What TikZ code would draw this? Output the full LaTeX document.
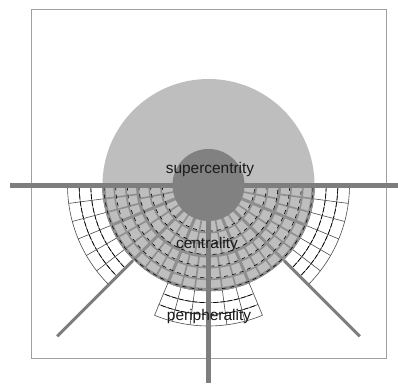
\documentclass[tikz,border=0pt]{standalone}
\usepackage{fontspec}
\setmainfont{Liberation Sans}
\usetikzlibrary{calc}
\definecolor{lightg}{HTML}{BEBEBE}
\definecolor{darkg}{HTML}{818181}
\definecolor{lineg}{HTML}{7E7E7E}
\definecolor{gridg}{HTML}{8E8E8E}
\definecolor{framec}{HTML}{A0A0A0}
\definecolor{textc}{HTML}{1A1A1A}
\tikzset{
  gridthin/.style={gridg, line width=1.6bp},
  gridthick/.style={gridg, line width=3bp},
  blackdash/.style={black, line width=0.6bp, dash pattern=on 4bp off 4bp},
  wline/.style={black!70, line width=0.6bp},
  wdash/.style={black, line width=0.7bp, dash pattern=on 5bp off 2bp},
  bigline/.style={lineg, line width=5bp},
  diagline/.style={lineg, line width=3bp},
  lbl/.style={font=\fontsize{15.5}{18}\selectfont, text=textc, inner sep=1bp}
}
\begin{document}
\begin{tikzpicture}[x=1bp,y=1bp]
\useasboundingbox (0,0) rectangle (398,385);
\fill[white] (0,0) rectangle (398,385);
\node[draw=framec, line width=0.8bp, minimum width=355bp, minimum height=349bp, inner sep=0pt, anchor=south west] (frame) at (31,26) {};
\coordinate (C) at (208.5,200);
% white outer sectors with thin grid
\foreach \a/\b in {180/225, 315/360, 247.5/292.5} {
  \fill[white] (C) -- ($(C)+(\a:141)$) arc[start angle=\a, end angle=\b, radius=141] -- cycle;
  \foreach \r in {106,117.7,129.3,141}
    \draw[wline] ($(C)+(\a:\r)$) arc[start angle=\a, end angle=\b, radius=\r];
  \foreach \r in {117.7,129.3}
    \draw[wdash] ($(C)+(\a+1:\r)$) arc[start angle=\a+1, end angle=\b-1, radius=\r];
  \foreach \k [evaluate=\k as \t using \a+7.5*\k] in {0,...,6}
    \draw[wline] ($(C)+(\t:106)$) -- ($(C)+(\t:141)$);
}
% light circle
\fill[lightg] (C) circle[radius=106];
% lower half grid
\foreach \j [evaluate=\j as \r using 36+70/6*\j] in {1,2,4,5}
  \draw[gridthin] ($(C)+(180:\r)$) arc[start angle=180, end angle=360, radius=\r];
\foreach \k [evaluate=\k as \t using 180+11.25*\k] in {1,...,15}
  \draw[gridthin] ($(C)+(\t:36)$) -- ($(C)+(\t:71)$);
\foreach \k [evaluate=\k as \t using 180+7.5*\k] in {1,...,23}
  \draw[gridthin] ($(C)+(\t:71)$) -- ($(C)+(\t:106)$);
\foreach \k [evaluate=\k as \t using 180+22.5*\k] in {1,...,7}
  \draw[gridthick] ($(C)+(\t:36)$) -- ($(C)+(\t:106)$);
\draw[gridthick] ($(C)+(180:71)$) arc[start angle=180, end angle=360, radius=71];
\draw[gridthick] ($(C)+(180:104.5)$) arc[start angle=180, end angle=360, radius=104.5];
% black jittered dashes along the rings
\foreach \j [evaluate=\j as \r using 34.5+70/6*\j] in {1,...,6}
  \draw[blackdash] ($(C)+(181:\r)$) arc[start angle=181, end angle=359, radius=\r];
% main lines
\coordinate (hl) at (10,199);
\coordinate (hr) at (398,199);
\draw[bigline] (hl) -- (hr);
\coordinate (vt) at ($(C)+(270:34)$);
\coordinate (vb) at (208.5,2);
\draw[bigline, line width=4.5bp] (vt) -- (vb);
\coordinate (dl1) at ($(C)+(225:107)$);
\coordinate (dl2) at ($(C)+(225:214)$);
\coordinate (dr1) at ($(C)+(315:107)$);
\coordinate (dr2) at ($(C)+(315:214)$);
\draw[diagline] (dl1) -- (dl2);
\draw[diagline] (dr1) -- (dr2);
% dark core
\fill[darkg] (C) circle[radius=36];
% labels
\node[lbl] (sup) at (210,215) {supercentrity};
\node[lbl] (cen) at (207,140) {centrality};
\node[lbl] (per) at (209,68) {peripherality};
\end{tikzpicture}
\end{document}
